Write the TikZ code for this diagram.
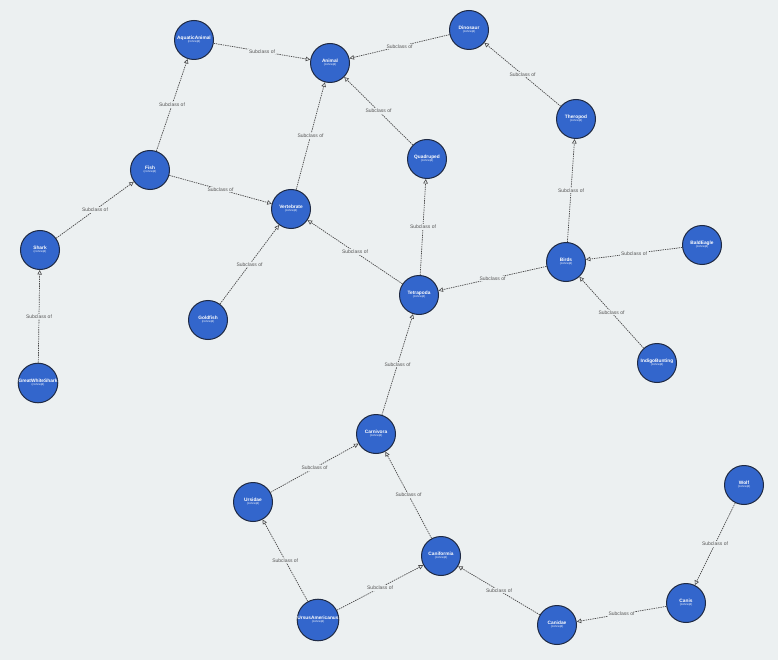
\documentclass[tikz,border=0pt]{standalone}
\usepackage{fontspec}
\setmainfont{Liberation Sans}
\usetikzlibrary{arrows.meta}
\definecolor{bgc}{HTML}{ECF0F1}
\definecolor{nodefill}{HTML}{3366CC}
\definecolor{nodeedge}{HTML}{1F2A44}
\definecolor{edgec}{HTML}{4A4A4A}
\definecolor{labc}{HTML}{555555}
\tikzset{
  concept/.style={circle, fill=nodefill, draw=nodeedge, line width=1pt, minimum size=39pt, inner sep=0pt, text=white, align=center, font=\fontsize{4.8}{5}\selectfont\bfseries},
  rel/.style={draw=edgec, line width=0.7pt, dash pattern=on 1.4pt off 0.9pt, -{Triangle[open, length=4.5pt, width=4.5pt, line width=0.6pt]}},
  rlab/.style={fill=bgc, inner sep=1pt, text=labc, font=\fontsize{5}{6}\selectfont}
}
\newcommand{\cpt}[1]{#1\\[-2pt]{\fontsize{3}{3.5}\selectfont\mdseries (concept)}}
\begin{document}
\begin{tikzpicture}[x=1pt,y=-1pt]
\fill[bgc] (0,0) rectangle (778,660);
\useasboundingbox (0,0) rectangle (778,660);
\node[concept] (aquatic) at (194,40) {\cpt{AquaticAnimal}};
\node[concept] (animal) at (330,63) {\cpt{Animal}};
\node[concept] (dino) at (469,30) {\cpt{Dinosaur}};
\node[concept] (thero) at (576,119) {\cpt{Theropod}};
\node[concept] (quad) at (427,159) {\cpt{Quadruped}};
\node[concept] (fish) at (150,170) {\cpt{Fish}};
\node[concept] (vert) at (291,209) {\cpt{Vertebrate}};
\node[concept] (shark) at (40,250) {\cpt{Shark}};
\node[concept] (birds) at (566,262) {\cpt{Birds}};
\node[concept] (bald) at (702,245) {\cpt{BaldEagle}};
\node[concept] (tetra) at (419,295) {\cpt{Tetrapoda}};
\node[concept] (gold) at (208,320) {\cpt{Goldfish}};
\node[concept] (indigo) at (657,363) {\cpt{IndigoBunting}};
\node[concept] (gws) at (38,383) {\cpt{GreatWhiteShark}};
\node[concept] (carn) at (376,434) {\cpt{Carnivora}};
\node[concept] (ursi) at (253,502) {\cpt{Ursidae}};
\node[concept] (wolf) at (744,485) {\cpt{Wolf}};
\node[concept] (canif) at (441,556) {\cpt{Caniformia}};
\node[concept] (ursus) at (318,620) {\cpt{UrsusAmericanus}};
\node[concept] (canid) at (557,625) {\cpt{Canidae}};
\node[concept] (canis) at (686,603) {\cpt{Canis}};
\foreach \s/\t in {aquatic/animal, dino/animal, thero/dino, fish/aquatic, vert/animal, quad/animal, fish/vert, shark/fish, gws/shark, gold/vert, tetra/vert, tetra/quad, birds/thero, birds/tetra, bald/birds, indigo/birds, carn/tetra, ursi/carn, canif/carn, ursus/ursi, ursus/canif, canid/canif, canis/canid, wolf/canis}
  \draw[rel] (\s) -- node[rlab] {Subclass of} (\t);
\end{tikzpicture}
\end{document}
